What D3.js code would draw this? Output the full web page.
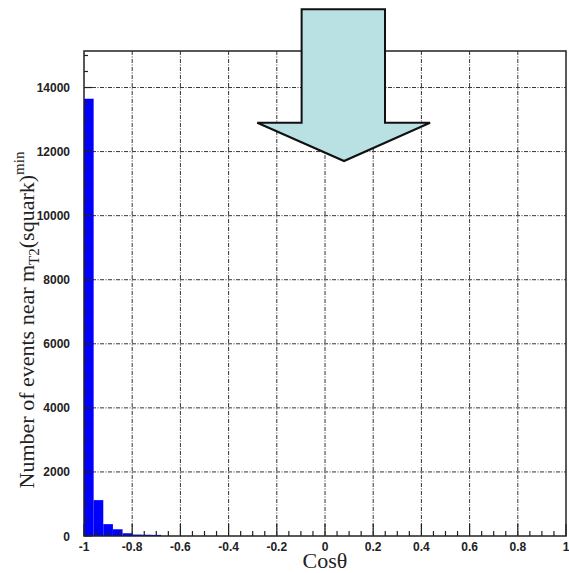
<!DOCTYPE html>
<html>
<head>
<meta charset="utf-8">
<script src="https://cdn.jsdelivr.net/npm/d3@7"></script>
<style>
  body { margin: 0; background: #fff; }
  .tick-label { font-family: "Liberation Sans", Arial, sans-serif; font-weight: bold; font-size: 12px; fill: #222; }
  .title { font-family: "Liberation Serif", "Times New Roman", serif; font-size: 22px; fill: #222; }
</style>
</head>
<body>
<svg id="chart" width="569" height="573"></svg>
<script>
// histogram of cos(theta), bin width 0.04
var binEdges = [-1, -0.96, -0.92, -0.88, -0.84, -0.80, -0.76, -0.72, -0.68];
var binCounts = [13650, 1120, 370, 210, 85, 45, 40, 35];
var xTicks = [-1, -0.8, -0.6, -0.4, -0.2, 0, 0.2, 0.4, 0.6, 0.8, 1];
var xTickLabels = ["-1", "-0.8", "-0.6", "-0.4", "-0.2", "0", "0.2", "0.4", "0.6", "0.8", "1"];
var yTicks = [0, 2000, 4000, 6000, 8000, 10000, 12000, 14000];
// arrow annotation in data units (x: cos theta, y: events)
var arrowShape = [
  [-0.097, 16440], [0.249, 16440], [0.249, 12900], [0.436, 12900],
  [0.079, 11705], [-0.281, 12900], [-0.097, 12900]
];

var svg = d3.select('#chart');
var plot = { left: 84, right: 566, top: 51, bottom: 536 };

var x = d3.scaleLinear().domain([-1, 1]).range([plot.left, plot.right]);
var y = d3.scaleLinear().domain([0, 15140]).range([plot.bottom, plot.top]);

// grid
var grid = svg.append('g').attr('stroke', '#333').attr('stroke-width', 1)
  .attr('stroke-dasharray', '4,1.5,1,1.5');
grid.selectAll('line.v').data(xTicks.slice(1, -1)).enter().append('line')
  .attr('x1', d => x(d)).attr('x2', d => x(d))
  .attr('y1', plot.top).attr('y2', plot.bottom);
grid.selectAll('line.h').data(yTicks.slice(1)).enter().append('line')
  .attr('x1', plot.left).attr('x2', plot.right)
  .attr('y1', d => y(d)).attr('y2', d => y(d));

// bars
svg.append('g').selectAll('rect').data(binCounts).enter().append('rect')
  .attr('x', (d, i) => x(binEdges[i]))
  .attr('width', (d, i) => x(binEdges[i + 1]) - x(binEdges[i]))
  .attr('y', d => y(d))
  .attr('height', d => plot.bottom - y(d))
  .attr('fill', '#0000ff');

// x axis ticks (inward)
var xMinor = d3.range(-1, 1.0001, 0.05);
svg.append('g').selectAll('line').data(xMinor).enter().append('line')
  .attr('x1', d => x(d)).attr('x2', d => x(d))
  .attr('y1', plot.bottom)
  .attr('y2', (d, i) => i % 4 === 0 ? plot.bottom - 12 : plot.bottom - 5)
  .attr('stroke', '#222').attr('stroke-width', 1.2);

// y axis ticks (inward)
var yMinor = d3.range(0, 15001, 500);
svg.append('g').selectAll('line').data(yMinor).enter().append('line')
  .attr('x1', plot.left)
  .attr('x2', (d, i) => i % 4 === 0 ? plot.left + 8 : plot.left + 4)
  .attr('y1', d => y(d)).attr('y2', d => y(d))
  .attr('stroke', '#222').attr('stroke-width', 1.2);

// frame
svg.append('rect')
  .attr('x', plot.left).attr('y', plot.top)
  .attr('width', plot.right - plot.left).attr('height', plot.bottom - plot.top)
  .attr('fill', 'none').attr('stroke', '#222').attr('stroke-width', 1.5);

// tick labels
svg.append('g').selectAll('text').data(xTicks).enter().append('text')
  .attr('class', 'tick-label')
  .attr('font-size', 11)
  .attr('x', d => x(d)).attr('y', 551)
  .attr('text-anchor', 'middle')
  .text((d, i) => xTickLabels[i]);

svg.append('g').selectAll('text').data(yTicks).enter().append('text')
  .attr('class', 'tick-label')
  .attr('x', 70).attr('y', d => y(d) + 4.5)
  .attr('text-anchor', 'end')
  .text(d => d);

// axis titles
svg.append('text').attr('class', 'title')
  .attr('x', 325).attr('y', 568)
  .attr('font-size', 20)
  .attr('text-anchor', 'middle')
  .text('Cosθ');

var yt = svg.append('text').attr('class', 'title')
  .attr('transform', 'translate(34,320) rotate(-90)')
  .attr('text-anchor', 'middle');
yt.append('tspan').text('Number of events near m');
yt.append('tspan').attr('dy', 5).attr('font-size', 15).text('T2');
yt.append('tspan').attr('dy', -5).text('(squark)');
yt.append('tspan').attr('dy', -10).attr('font-size', 15).text('min');

// arrow
svg.append('polygon')
  .attr('points', arrowShape.map(p => x(p[0]) + ',' + y(p[1])).join(' '))
  .attr('fill', '#b9e0e3')
  .attr('stroke', '#111')
  .attr('stroke-width', 2)
  .attr('stroke-linejoin', 'miter');
</script>
</body>
</html>
